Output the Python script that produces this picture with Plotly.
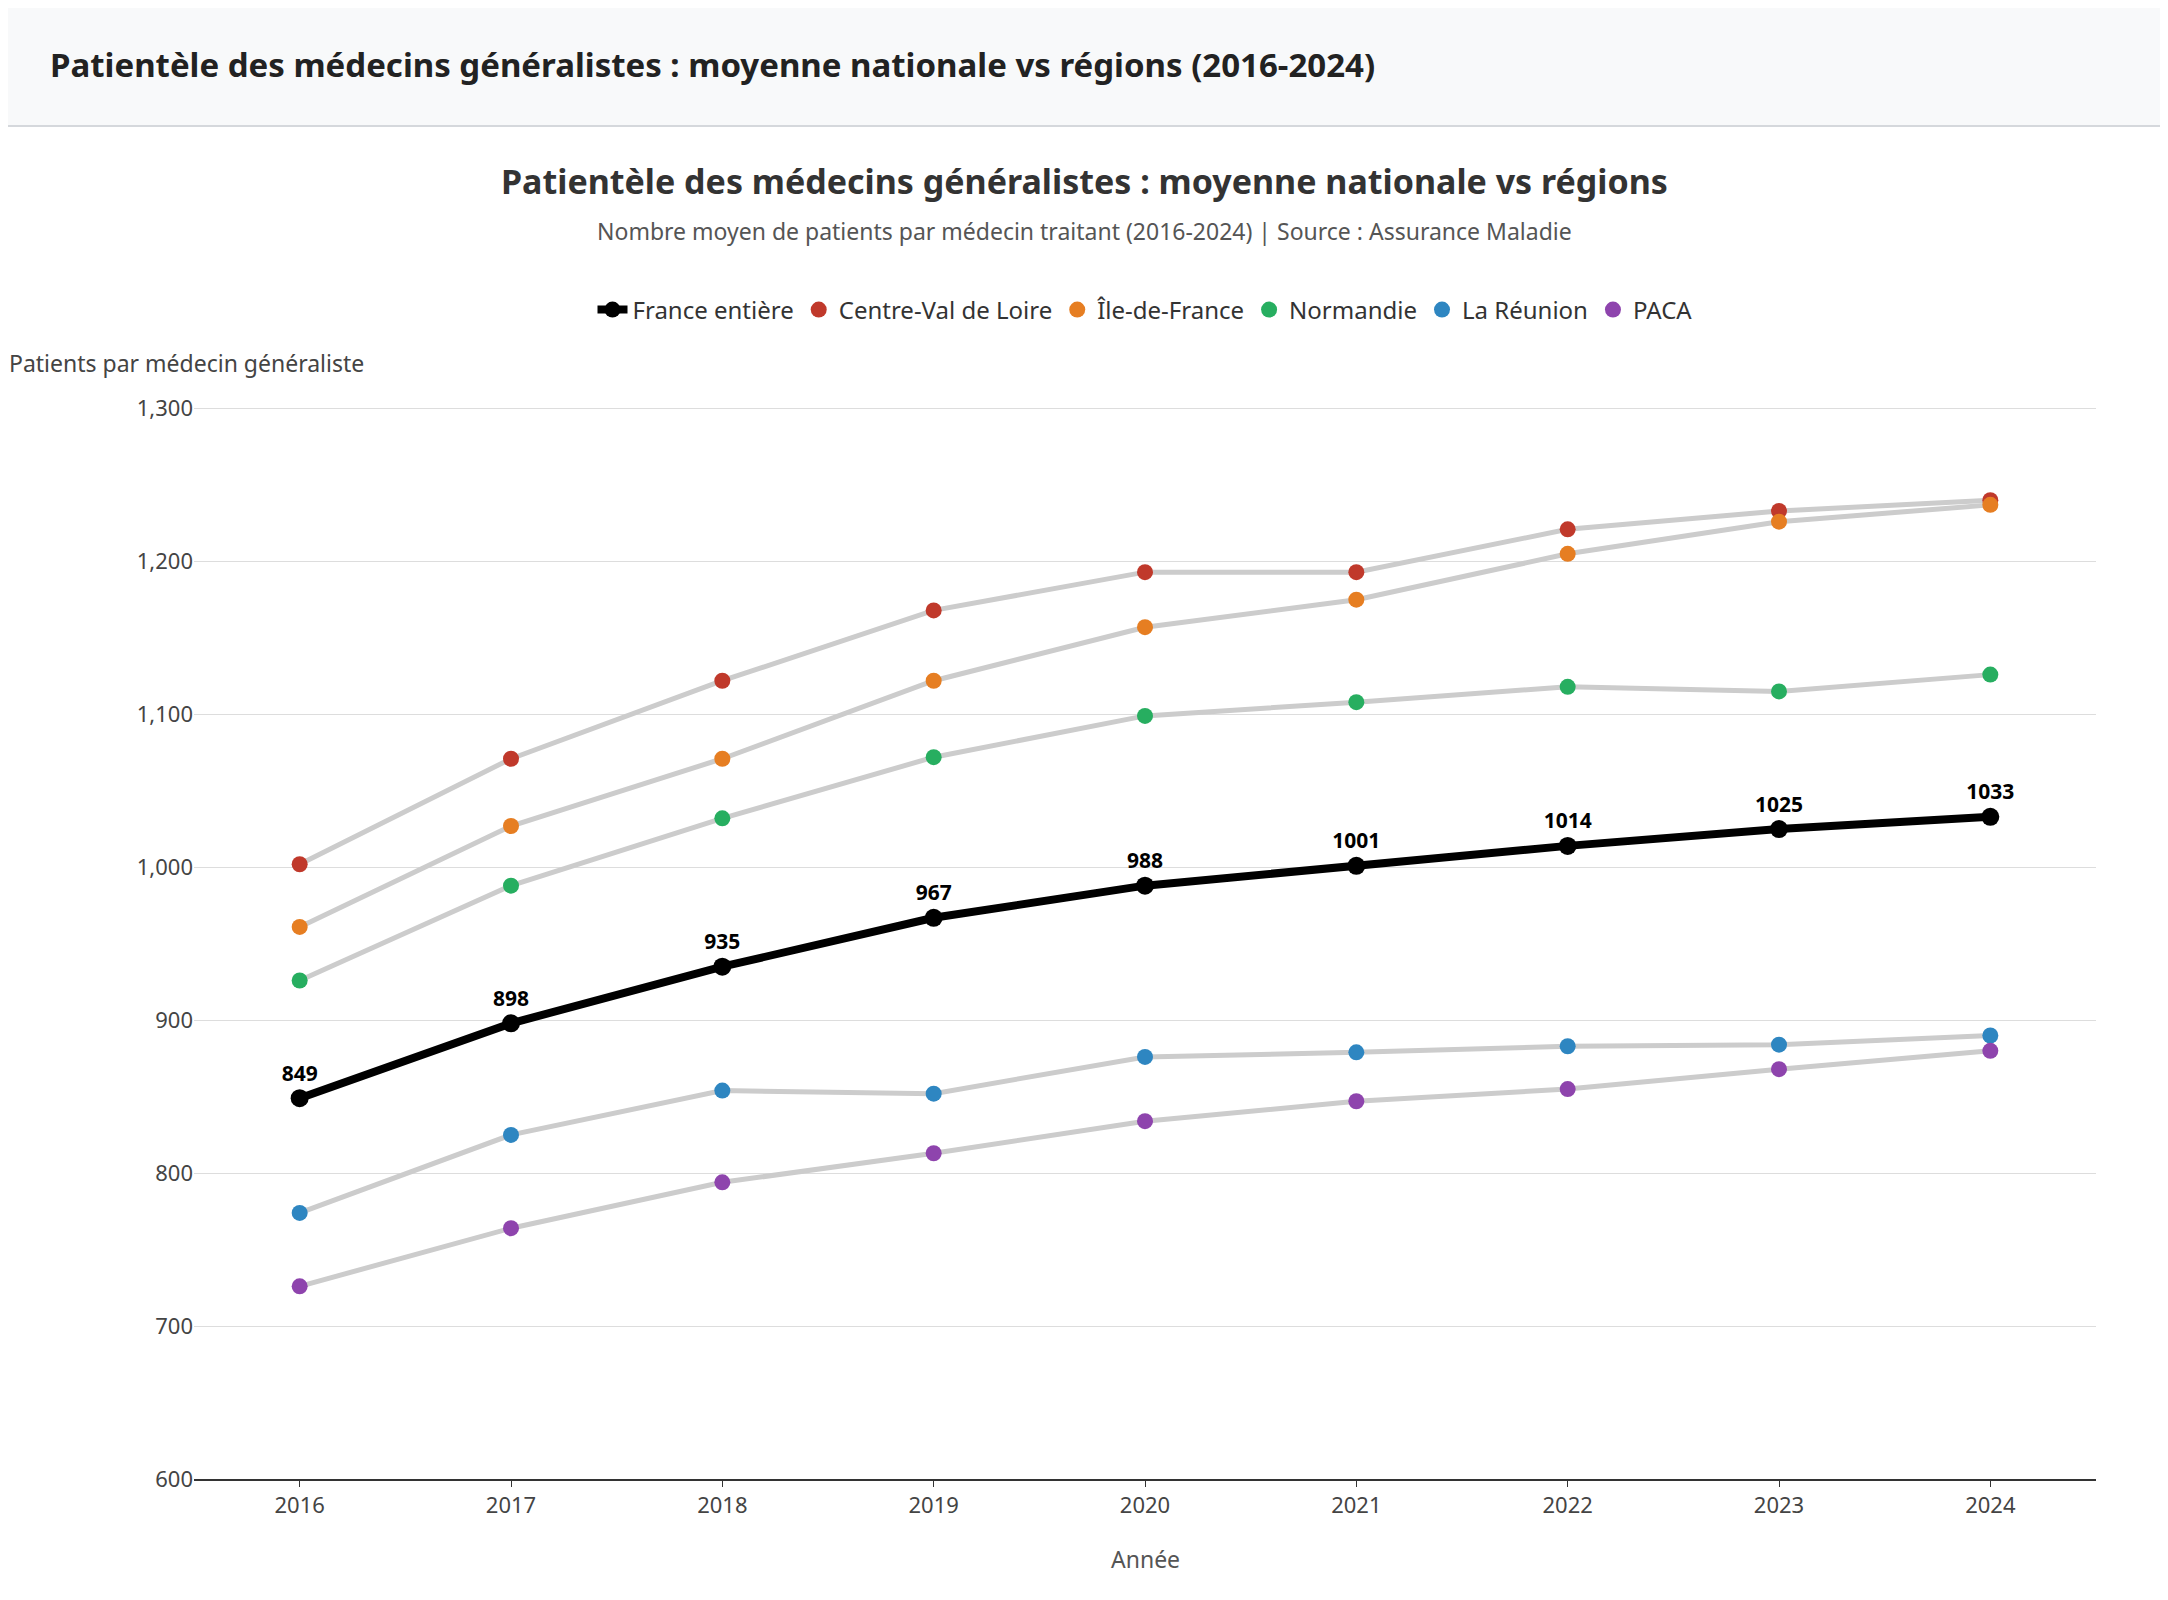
import plotly.graph_objects as go

years = [2016, 2017, 2018, 2019, 2020, 2021, 2022, 2023, 2024]
france = [849, 898, 935, 967, 988, 1001, 1014, 1025, 1033]
centre = [1002, 1071, 1122, 1168, 1193, 1193, 1221, 1233, 1240]
idf = [961, 1027, 1071, 1122, 1157, 1175, 1205, 1226, 1237]
normandie = [926, 988, 1032, 1072, 1099, 1108, 1118, 1115, 1126]
reunion = [774, 825, 854, 852, 876, 879, 883, 884, 890]
paca = [726, 764, 794, 813, 834, 847, 855, 868, 880]

regions = [
    ("Centre-Val de Loire", centre, "#c0392b"),
    ("Île-de-France", idf, "#e67e22"),
    ("Normandie", normandie, "#27ae60"),
    ("La Réunion", reunion, "#2e86c1"),
    ("PACA", paca, "#8e44ad"),
]

OFF = 8  # page body margin
W, H = 2168, 1600
ML, MR, MT, MB = 194 - OFF, 80, 407 - OFF, 121 + OFF
PW, PH = W - ML - MR, H - MT - MB
def px(p): return (p - OFF - ML) / PW
def py(p): return (H - MB - (p - OFF)) / PH

FONT = "Noto Sans"
fig = go.Figure()
fig.add_trace(go.Scatter(x=years, y=france, mode="lines+markers+text", name="France entière",
    line=dict(color="black", width=8), marker=dict(color="black", size=18),
    text=[str(v) for v in france], textposition="top center",
    textfont=dict(size=21, color="black", family=FONT, weight="bold")))
for name, vals, col in regions:
    fig.add_trace(go.Scatter(x=years, y=vals, mode="lines", line=dict(color="#cccccc", width=5),
                             showlegend=False, hoverinfo="skip"))
    fig.add_trace(go.Scatter(x=years, y=vals, mode="markers", name=name,
                             marker=dict(color=col, size=16)))

fig.update_layout(
    width=W, height=H, margin=dict(l=ML, r=MR, t=MT, b=MB),
    plot_bgcolor="white", paper_bgcolor="white",
    font=dict(family=FONT, size=22, color="#444"),
    legend=dict(orientation="h", x=0.5, xanchor="center", y=py(310), yanchor="middle",
                font=dict(size=24, color="#333"), itemwidth=30),
    xaxis=dict(tickvals=years, range=[2015.5, 2024.5], showgrid=False, showline=True,
               linecolor="#333", linewidth=2, ticks="outside", ticklen=6, tickcolor="#333",
               tickfont=dict(size=22, color="#444")),
    yaxis=dict(range=[600, 1301], tickvals=[600, 700, 800, 900, 1000, 1100, 1200, 1300],
               tickformat=",", gridcolor="#dddddd",
               zeroline=False, tickfont=dict(size=22, color="#444")),
    shapes=[
        dict(type="rect", xref="paper", yref="paper", x0=px(-20), x1=px(W + 20), y0=py(126), y1=py(-20),
             fillcolor="#f8f9fa", line=dict(width=0), layer="below"),
        dict(type="line", xref="paper", yref="paper", x0=px(-20), x1=px(W + 20), y0=py(126), y1=py(126),
             line=dict(color="#d5d8dc", width=2)),
    ],
    annotations=[
        dict(text="<b>Patientèle des médecins généralistes : moyenne nationale vs régions (2016-2024)</b>",
             xref="paper", yref="paper", x=px(48), y=py(64), xanchor="left", yanchor="middle",
             showarrow=False, font=dict(size=33, color="#222")),
        dict(text="<b>Patientèle des médecins généralistes : moyenne nationale vs régions</b>",
             xref="paper", yref="paper", x=px(1084), y=py(181), xanchor="center", yanchor="middle",
             showarrow=False, font=dict(size=34, color="#333")),
        dict(text="Nombre moyen de patients par médecin traitant (2016-2024) | Source : Assurance Maladie",
             xref="paper", yref="paper", x=px(1084), y=py(231), xanchor="center", yanchor="middle",
             showarrow=False, font=dict(size=23, color="#555")),
        dict(text="Patients par médecin généraliste", xref="paper", yref="paper",
             x=px(7), y=py(363), xanchor="left", yanchor="middle", showarrow=False,
             font=dict(size=23, color="#444")),
        dict(text="Année", xref="paper", yref="paper", x=0.5, y=py(1559), xanchor="center",
             yanchor="middle", showarrow=False, font=dict(size=23, color="#555")),
    ],
)
fig.write_html("out.html")
